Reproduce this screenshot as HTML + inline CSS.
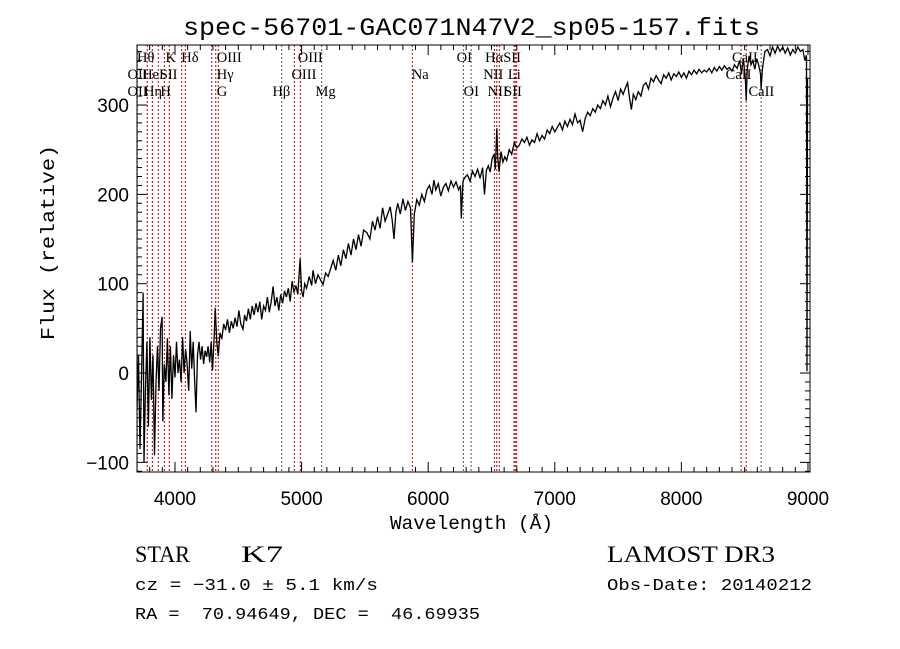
<!DOCTYPE html>
<html><head><meta charset="utf-8"><style>
body{margin:0;background:#fff;}
svg{display:block;}
text{white-space:pre;}
</style></head><body>
<svg id="chart" width="900" height="649" xmlns="http://www.w3.org/2000/svg">
<rect width="900" height="649" fill="#fff"/>
<defs><clipPath id="pc"><rect x="137" y="45" width="673" height="427"/></clipPath></defs>
<text x="183" y="35" textLength="577" lengthAdjust="spacingAndGlyphs" font-family="Liberation Mono, monospace" font-size="25">spec-56701-GAC071N47V2_sp05-157.fits</text>
<g id="lines"></g>
<g id="labels" font-family="Liberation Serif, serif" font-size="14.5"></g>
<g id="ticks"></g>
<path id="spec" fill="none" stroke="#000" stroke-width="1.3" clip-path="url(#pc)"/>
<rect x="137" y="45" width="673" height="427" fill="none" stroke="#000" stroke-width="1"/>
<text x="390" y="529" textLength="163" lengthAdjust="spacingAndGlyphs" font-family="Liberation Mono, monospace" font-size="19">Wavelength (Å)</text>
<text transform="translate(54,340) rotate(-90)" textLength="195" lengthAdjust="spacingAndGlyphs" font-family="Liberation Mono, monospace" font-size="19">Flux (relative)</text>
<text x="135" y="562" textLength="55" lengthAdjust="spacingAndGlyphs" font-family="Liberation Serif, serif" font-size="23">STAR</text>
<text x="241" y="562" textLength="42" lengthAdjust="spacingAndGlyphs" font-family="Liberation Serif, serif" font-size="23">K7</text>
<text x="135" y="590" textLength="243" lengthAdjust="spacingAndGlyphs" font-family="Liberation Mono, monospace" font-size="17">cz = −31.0 ± 5.1 km/s</text>
<text x="135" y="619" textLength="345" lengthAdjust="spacingAndGlyphs" font-family="Liberation Mono, monospace" font-size="17">RA =  70.94649, DEC =  46.69935</text>
<text x="607" y="562" textLength="168" lengthAdjust="spacingAndGlyphs" font-family="Liberation Serif, serif" font-size="23">LAMOST DR3</text>
<text x="607" y="590" textLength="205" lengthAdjust="spacingAndGlyphs" font-family="Liberation Mono, monospace" font-size="17">Obs-Date: 20140212</text>
</svg>
<script>
const wave=[3700,3712,3724,3736,3748,3755,3766,3778,3790,3802,3814,3826,3838,3850,3862,3874,3886,3898,3904,3916,3928,3940,3952,3964,3976,3988,4000,4012,4024,4036,4048,4060,4072,4084,4096,4108,4120,4132,4144,4156,4166,4178,4190,4202,4214,4226,4238,4250,4262,4274,4286,4296,
4310,4318,4330,4342,4356,4370,4385,4400,4415,4430,4445,4460,4475,4490,4505,4520,4537,4550,4565,4580,4595,4610,4625,4640,4655,4670,4685,4700,4715,4730,4745,4760,4775,4790,4805,4820,4835,4850,4865,4880,4895,4910,4925,4940,4955,4970,4988,5000,5012,5025,
5040,5060,5080,5090,5110,5130,5150,5169,5190,5210,5225,5250,5270,5290,5310,5330,5350,5370,5390,5410,5430,5450,5470,5490,5517,5540,5560,5580,5600,5620,5640,5660,5680,5700,5715,5730,5745,5760,5780,5800,5820,5840,5860,5875,5890,5910,5930,5950,5970,5990,6010,6030,6045,6060,6080,6100,6120,6140,6160,6180,6200,6220,6240,6255,6262,6275,6290,6310,6330,6350,6370,6390,6410,6430,6445,6460,6475,6490,6505,6520,6530,6542,6550,6560,6575,6590,6605,6620,6640,6660,6680,6700,6720,6740,6760,6780,6800,6820,6840,6860,6880,6900,6920,6940,6960,6980,7000,7020,7040,7060,7080,7100,7120,7140,7160,7180,7200,7220,7240,7260,7280,7300,7320,7340,7360,7380,7400,7420,7440,7460,7480,7500,7520,7540,7560,7575,7590,7605,7620,7640,7660,7680,7700,7720,7740,7760,7780,7800,7820,7840,7860,7880,7900,7920,7940,7960,7980,8000,8020,8040,8060,8080,8100,8120,8140,8160,8180,8200,8220,8240,8260,8280,8300,8320,8340,8360,8380,8400,8420,8440,8460,8475,8490,8505,8512,8520,8535,8550,8565,8580,8595,8610,8625,8630,8640,8660,8680,8700,8720,8740,8760,8780,8800,8820,8840,8860,8880,8900,8920,8940,8960,8975,8985,8988,8992,8996];
const flux=[-40,20,-85,0,90,-100,-20,35,-60,40,-30,20,-92,-10,30,-20,50,63,-54,10,-10,39,-25,30,-29,20,-5,35,0,15,-10,40,0,27,10,-20,47,5,35,-10,-44,20,35,15,30,10,25,18,30,12,35,3,
40,73,35,19,45,38,55,48,60,45,58,50,62,52,70,55,49,65,58,72,60,75,65,78,68,80,60,75,70,85,68,80,97,75,85,70,88,78,92,85,95,80,103,90,98,88,128,92,85,100,
95,108,98,115,100,110,104,99,112,108,115,126,115,132,120,138,128,145,132,150,138,155,142,160,157,150,170,160,175,162,185,170,178,186,172,150,180,190,178,195,182,192,185,124,178,194,188,200,192,205,210,200,216,205,212,198,208,212,204,215,208,214,205,210,173,215,219,222,215,226,220,228,218,230,200,227,232,225,240,245,228,274,240,225,248,236,242,238,250,245,258,252,255,262,258,264,255,261,258,268,260,266,262,272,268,276,270,275,280,272,282,276,284,278,290,280,283,270,285,292,288,296,292,300,296,305,300,310,298,308,315,305,318,312,320,325,308,295,312,306,315,310,322,325,318,330,326,333,328,324,334,330,336,328,335,332,337,331,336,330,338,334,339,335,340,336,339,337,341,336,342,338,343,339,344,340,342,338,345,341,350,335,352,330,305,340,355,345,350,340,352,345,335,318,340,360,362,355,365,358,366,360,365,358,364,356,362,358,365,360,362,350,355,355,2,330];
const lineWave=[3702,3781,3821,3868,3916,3955,4053,4082,4290,4322,4342,4843,4943,4990,5159,5875,6278,6339,6523,6542,6562,6678,6688,6699,8472,8512,8630];
const lineDark=[0,0,0,0,0,0,0,0,0,0,0,1,0,0,1,0,1,1,0,0,0,0,0,0,0,0,1];
const labelText=["Hθ","K","Hδ","OIII","OIII","OI","HαSII","CaII","OII","HeI","SII","Hγ","OIII","Na","NII","Li","CaII","OII","Hη","H","G","Hβ","Mg","OI","NII","SII","CaII"];
const labelWave=[3700,3925,4050,4330,4970,6225,6450,8400,3625,3740,3880,4330,4920,5870,6435,6630,8350,3625,3755,3885,4330,4770,5110,6280,6470,6600,8530];
const labelRow=[0,0,0,0,0,0,0,0,1,1,1,1,1,1,1,1,1,2,2,2,2,2,2,2,2,2,2];
const xTicks=[4000,5000,6000,7000,8000,9000];
const yTicks=[-100,0,100,200,300];
const NS="http://www.w3.org/2000/svg";
const X0=137,X1=810,W0=3700,W1=9016,Y0=472,Y1=45,F0=-110.8,F1=367.2;
function sx(w){return X0+(w-W0)*(X1-X0)/(W1-W0);}
function sy(f){return Y0-(f-F0)*(Y0-Y1)/(F1-F0);}
function mk(tag,attrs,parent){const e=document.createElementNS(NS,tag);for(const k in attrs)e.setAttribute(k,attrs[k]);parent.appendChild(e);return e;}
let d="";
for(let i=0;i<wave.length;i++){d+=(i?"L":"M")+sx(wave[i]).toFixed(1)+","+sy(flux[i]).toFixed(1);}
document.getElementById("spec").setAttribute("d",d);
const lg=document.getElementById("lines");
for(let i=0;i<lineWave.length;i++){
 const x=sx(lineWave[i]);
 const l=mk("line",{x1:x,x2:x,y1:45,y2:472,stroke:lineDark[i]?"#555":"#c00000","stroke-width":1,"stroke-dasharray":"2,2"},lg);
 
 
}
const lb=document.getElementById("labels");
for(let i=0;i<labelText.length;i++){
 const t=mk("text",{x:sx(labelWave[i]),y:62+labelRow[i]*17},lb);
 t.textContent=labelText[i];
 
 
}
const tg=document.getElementById("ticks");
for(let w=3800;w<=9000;w+=100){
 const x=sx(w),big=w%1000===0,len=big?10:5;
 mk("line",{x1:x,x2:x,y1:472,y2:472-len,stroke:"#000"},tg);
 mk("line",{x1:x,x2:x,y1:45,y2:45+len,stroke:"#000"},tg);
}
for(const w of xTicks){
 const t=mk("text",{x:sx(w),y:505,"text-anchor":"middle","font-family":"Liberation Sans, sans-serif","font-size":19},tg);
 t.textContent=w;
 
 
}
for(let f=-110;f<=360;f+=10){
 const y=sy(f),big=f%100===0,len=big?10:5;
 mk("line",{x1:137,x2:137+len,y1:y,y2:y,stroke:"#000"},tg);
 mk("line",{x1:810,x2:810-len,y1:y,y2:y,stroke:"#000"},tg);
}
for(const f of yTicks){
 const t=mk("text",{x:129,y:sy(f)+7,"text-anchor":"end","font-family":"Liberation Sans, sans-serif","font-size":19},tg);
 t.textContent=f<0?"−"+Math.abs(f):f;
 
 
}
</script>
</body></html>
